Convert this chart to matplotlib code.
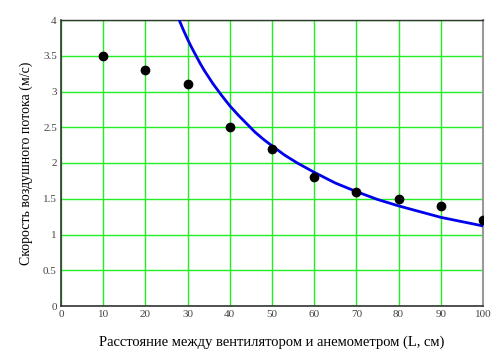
import matplotlib
matplotlib.use('Agg')
import matplotlib.pyplot as plt

plt.rcParams['font.family'] = ['Liberation Serif', 'DejaVu Serif']

# измеренные точки
dist = [10, 20, 30, 40, 50, 60, 70, 80, 90, 100]
speed = [3.5, 3.3, 3.1, 2.5, 2.2, 1.8, 1.6, 1.5, 1.4, 1.2]

# кривая
curve_x = [28, 29, 30, 31, 32, 33, 34, 36, 38, 40, 42, 44, 46, 48, 50, 53, 56, 60, 65, 70,
           75, 80, 85, 90, 95, 100]
curve_y = [4.0, 3.86, 3.73, 3.61, 3.5, 3.39, 3.29, 3.11, 2.95, 2.8, 2.67, 2.55, 2.43, 2.33,
           2.24, 2.11, 2.0, 1.87, 1.72, 1.6, 1.49, 1.4, 1.32, 1.24, 1.18, 1.12]

xticks = [0, 10, 20, 30, 40, 50, 60, 70, 80, 90, 100]
yticks = [0, 0.5, 1, 1.5, 2, 2.5, 3, 3.5, 4]
ytick_labels = ['0', '0.5', '1', '1.5', '2', '2.5', '3', '3.5', '4']

fig = plt.figure(figsize=(5.01, 3.56), dpi=100)
ax = fig.add_axes([61 / 501, 1 - 306 / 356, 422 / 501, 286 / 356])

ax.grid(True, color='#22ee22', linewidth=1)
ax.set_axisbelow(True)
ax.plot(curve_x, curve_y, color='#0000ee', linewidth=2, zorder=3)
ax.plot(dist, speed, 'o', color='black', markersize=6, zorder=4)

ax.set_xlim(0, 100)
ax.set_ylim(0, 4)
ax.set_xticks(xticks)
ax.set_yticks(yticks)
ax.set_yticklabels(ytick_labels)
ax.tick_params(length=0, labelsize=8, labelcolor='#444444', pad=3)

for s in ['left', 'bottom']:
    ax.spines[s].set_color('#333333')
    ax.spines[s].set_linewidth(1.2)
ax.spines['top'].set_color('#333333')
ax.spines['top'].set_linewidth(1)
ax.spines['right'].set_color('#999999')
ax.spines['right'].set_linewidth(1.5)

ax.set_xlabel('Расстояние между вентилятором и анемометром (L, см)', fontsize=10.5, labelpad=12)
ax.set_ylabel('Скорость воздушного потока (м/с)', fontsize=10, labelpad=7)

fig.savefig('out.png', dpi=100)
